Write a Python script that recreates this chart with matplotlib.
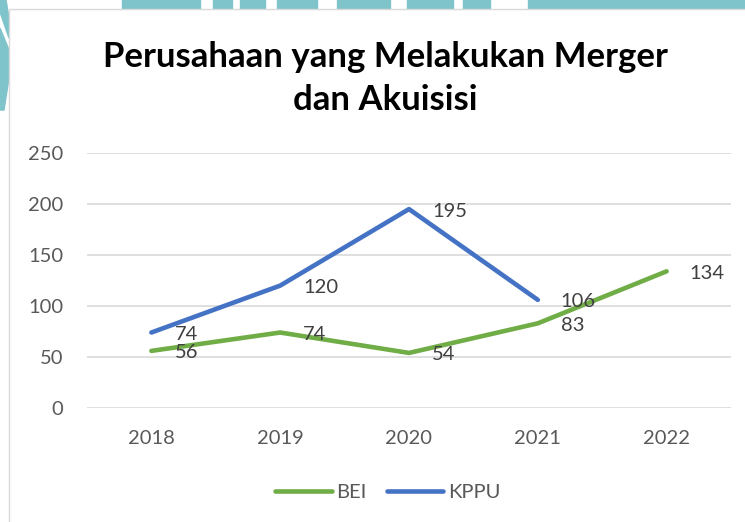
import matplotlib.pyplot as plt
from matplotlib.patches import Rectangle, Polygon

# data
years = ["2018", "2019", "2020", "2021", "2022"]
bei = [56, 74, 54, 83, 134]
kppu = [74, 120, 195, 106]

W, H = 745, 522
GREEN = "#70AD47"
BLUE = "#4472C4"
TEAL = "#7FC3CB"

plt.rcParams["font.family"] = ["Lato", "DejaVu Sans"]


def fx(px):
    return px / W


def fy(py):
    return 1 - py / H


fig = plt.figure(figsize=(W / 100, H / 100), dpi=100)
fig.patch.set_facecolor("white")

# watermark bits peeking out behind the chart box
for x0, x1 in [(0, 5), (122, 200), (213, 232), (240, 265), (277, 317),
               (337, 390), (407, 453), (463, 490), (528, 745)]:
    fig.patches.append(Rectangle((fx(x0), fy(9)), fx(x1 - x0), 9 / H,
                                 transform=fig.transFigure, color=TEAL, zorder=-3))
for pts in [[(0, 0), (6, 0), (9, 18), (9, 38), (0, 12)],
            [(0, 28), (9, 50), (9, 78), (4, 110), (0, 110)]]:
    fig.patches.append(Polygon([(fx(a), fy(b)) for a, b in pts],
                               transform=fig.transFigure, color=TEAL, zorder=-3))

# chart frame
fig.patches.append(Rectangle((fx(9), -0.01), fx(W - 9 + 5), fy(9) + 0.01,
                             transform=fig.transFigure, facecolor="white",
                             edgecolor="#D9D9D9", linewidth=1, zorder=-2))

ax = fig.add_axes([fx(87), fy(408), fx(731 - 87), (408 - 153) / H])
ax.set_facecolor("none")

x = list(range(len(years)))
ax.plot(x, bei, color=GREEN, lw=3.3, solid_capstyle="round",
        solid_joinstyle="round", label="BEI", zorder=3)
ax.plot(x[:len(kppu)], kppu, color=BLUE, lw=3.3, solid_capstyle="round",
        solid_joinstyle="round", label="KPPU", zorder=3)

for xs, ys in [(x, bei), (x[:len(kppu)], kppu)]:
    for xi, yi in zip(xs, ys):
        ax.annotate(str(yi), (xi, yi), xytext=(23, -2), textcoords="offset pixels",
                    ha="left", va="center", fontsize=14.5, color="#404040", zorder=4)

ax.set_xlim(-0.5, len(years) - 0.5)
ax.set_ylim(0, 250)
ax.set_yticks([0, 50, 100, 150, 200, 250])
ax.set_xticks(x)
ax.set_xticklabels(years)
ax.grid(axis="y", color="#D9D9D9", lw=1.2)
ax.set_axisbelow(True)
for s in ax.spines.values():
    s.set_visible(False)
ax.tick_params(length=0, labelsize=14.5, labelcolor="#595959")
ax.tick_params(axis="y", pad=17)
ax.tick_params(axis="x", pad=16)

fig.text(fx(385), fy(57), "Perusahaan yang Melakukan Merger", ha="center", va="center",
         fontsize=25, fontweight="bold", color="black")
fig.text(fx(385), fy(100), "dan Akuisisi", ha="center", va="center",
         fontsize=25, fontweight="bold", color="black")

leg = fig.legend(loc="center", bbox_to_anchor=(fx(388), fy(492)), ncol=2, frameon=False,
                 fontsize=14.5, handlelength=2.8, handletextpad=0.25, columnspacing=1.0)
for t in leg.get_texts():
    t.set_color("#595959")

fig.savefig("out.png", dpi=100)
